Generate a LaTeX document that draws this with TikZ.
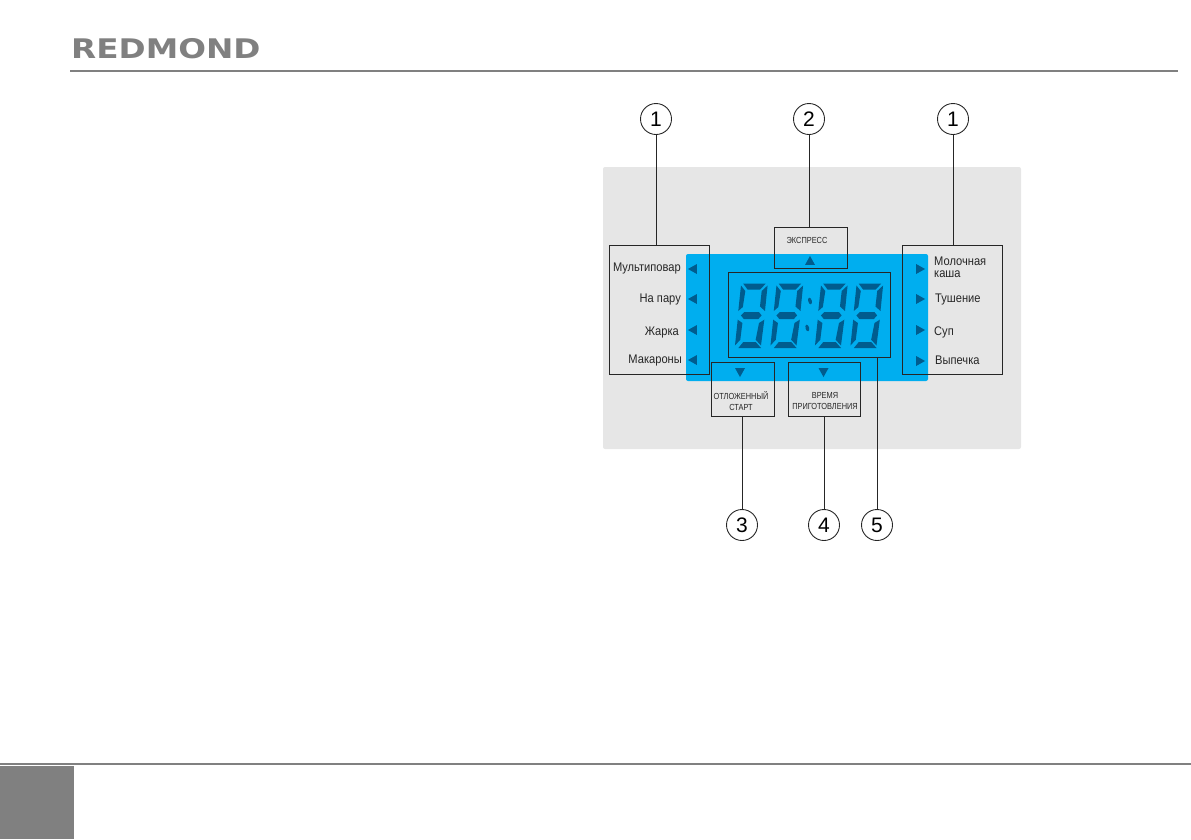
\documentclass[tikz,border=0pt]{standalone}
\usepackage{fontspec}
\setmainfont{Liberation Sans}
\newfontfamily\logofont{DejaVu Sans}
\usetikzlibrary{shapes.geometric}
\definecolor{panelgray}{HTML}{E6E6E6}
\definecolor{lcdblue}{HTML}{00AEEF}
\definecolor{segblue}{HTML}{005C8E}
\definecolor{pagegray}{HTML}{808080}
\tikzset{
  callout/.style={draw=black!85, circle, line width=0.9pt, minimum size=31pt, inner sep=0pt, font=\fontsize{21}{21}\selectfont},
  framebox/.style={draw=black!85, line width=0.9pt, inner sep=0pt},
  lead/.style={draw=black!85, line width=0.9pt},
  arrowtri/.style={isosceles triangle, isosceles triangle stretches, fill=segblue, inner sep=0pt, minimum height=9pt, minimum width=10pt},
  modeleft/.style={anchor=east, inner sep=0pt, xscale=0.89, font=\fontsize{12.5}{12.5}\selectfont, text=black!85},
  moderight/.style={anchor=west, inner sep=0pt, xscale=0.89, font=\fontsize{12.5}{12.5}\selectfont, text=black!85},
  smalltxt/.style={inner sep=0pt, align=center, xscale=0.84, font=\fontsize{8.8}{11}\selectfont, text=black!85},
}
\newcommand{\lcddigit}[2]{%
  \begin{scope}[shift={(#1,#2)}, xslant=0.09]
    \fill[segblue] (3.3,0.7) -- (25.7,0.7) -- (20.6,6.7) -- (8.3,6.7) -- cycle;
    \fill[segblue] (1.2,2.5) -- (6,8) -- (5,24) -- (0.8,28) -- cycle;
    \fill[segblue] (27.8,2.5) -- (22.4,8) -- (22.1,23.5) -- (27.5,28) -- cycle;
    \fill[segblue] (3.9,32.5) -- (7,29) -- (21.5,29) -- (24.6,32.5) -- (21.5,36) -- (7,36) -- cycle;
    \fill[segblue] (1,36.7) -- (6,40) -- (5.4,56.7) -- (0.6,62.5) -- cycle;
    \fill[segblue] (27.6,36.7) -- (22.6,40) -- (20.8,56.7) -- (26.6,62.5) -- cycle;
    \fill[segblue] (8.6,59) -- (21,59) -- (26.9,65) -- (4.2,65) -- cycle;
  \end{scope}}
\begin{document}
\begin{tikzpicture}[x=1pt, y=-1pt]
  \useasboundingbox (0,0) rectangle (1191,839);
  % header and footer
  \node[anchor=west, inner sep=0pt, text=pagegray, font=\logofont\fontsize{27}{27}\bfseries\selectfont, xscale=1.21] (logo) at (71,49) {REDMOND};
  \coordinate (headl) at (70,71);
  \coordinate (headr) at (1178,71);
  \draw[pagegray, line width=1.5pt] (headl) -- (headr);
  \coordinate (footl) at (0,764);
  \coordinate (footr) at (1191,764);
  \draw[pagegray, line width=1.5pt] (footl) -- (footr);
  \fill[pagegray] (0,766) rectangle (74,839);
  % panel
  \fill[panelgray, rounded corners=2pt] (603,167) rectangle (1021,449);
  \fill[lcdblue, rounded corners=2pt] (686,254) rectangle (928,381);
  % digits
  \lcddigit{740}{283}
  \lcddigit{775.5}{283}
  \lcddigit{820}{283}
  \lcddigit{855.5}{283}
  \fill[segblue, rotate around={15:(810,301)}] (810,301) ellipse (1.8 and 3.4);
  \fill[segblue, rotate around={15:(807.3,328)}] (807.3,328) ellipse (1.8 and 3.4);
  % frames
  \node[framebox, minimum width=100pt, minimum height=129pt] (modesl) at (659,309.5) {};
  \node[framebox, minimum width=100pt, minimum height=129pt] (modesr) at (952,309.5) {};
  \node[framebox, minimum width=73pt, minimum height=41pt] (express) at (810.5,247.5) {};
  \node[framebox, minimum width=162pt, minimum height=85pt] (display) at (809,314.5) {};
  \node[framebox, minimum width=63pt, minimum height=54pt] (delay) at (742.5,389) {};
  \node[framebox, minimum width=72pt, minimum height=54pt] (cooktime) at (824,389) {};
  % callouts
  \node[callout] (c1l) at (656,119) {1};
  \node[callout] (c2) at (809,119) {2};
  \node[callout] (c1r) at (953,119) {1};
  \node[callout] (c3) at (742,525) {3};
  \node[callout] (c4) at (824,525) {4};
  \node[callout] (c5) at (877,525) {5};
  \draw[lead] (c1l) -- (c1l |- modesl.north);
  \draw[lead] (c2) -- (c2 |- express.north);
  \draw[lead] (c1r) -- (c1r |- modesr.north);
  \draw[lead] (c3) -- (c3 |- delay.south);
  \draw[lead] (c4) -- (c4 |- cooktime.south);
  \draw[lead] (c5) -- (c5 |- display.south);
  % left modes
  \node[modeleft] (mode1) at (681,268.5) {Мультиповар};
  \node[modeleft] (mode2) at (681,299.5) {На пару};
  \node[modeleft] (mode3) at (679,332.5) {Жарка};
  \node[modeleft] (mode4) at (682,360.5) {Макароны};
  \foreach \yy/\nn in {269/a,299/b,330/c,360/d}
    \node[arrowtri, shape border rotate=180] (tl\nn) at (694,\yy) {};
  % right modes
  \node[moderight] (mode5) at (934,261) {Молочная};
  \node[moderight] (mode5b) at (934,274) {каша};
  \node[moderight] (mode6) at (935,299) {Тушение};
  \node[moderight] (mode7) at (934,332) {Суп};
  \node[moderight] (mode8) at (935,360) {Выпечка};
  \foreach \yy/\nn in {269/a,299/b,330/c,361/d}
    \node[arrowtri] (tr\nn) at (919,\yy) {};
  % small buttons
  \node[smalltxt] (extxt) at (807,240.5) {ЭКСПРЕСС};
  \node[smalltxt] (delaytxt) at (741,401.5) {ОТЛОЖЕННЫЙ\\СТАРТ};
  \node[smalltxt] (timetxt) at (825,401.5) {ВРЕМЯ\\ПРИГОТОВЛЕНИЯ};
  \node[arrowtri, shape border rotate=90] (tex) at (810,262) {};
  \node[arrowtri, shape border rotate=-90] (tde) at (740,371) {};
  \node[arrowtri, shape border rotate=-90] (tti) at (823.5,371) {};
\end{tikzpicture}
\end{document}
